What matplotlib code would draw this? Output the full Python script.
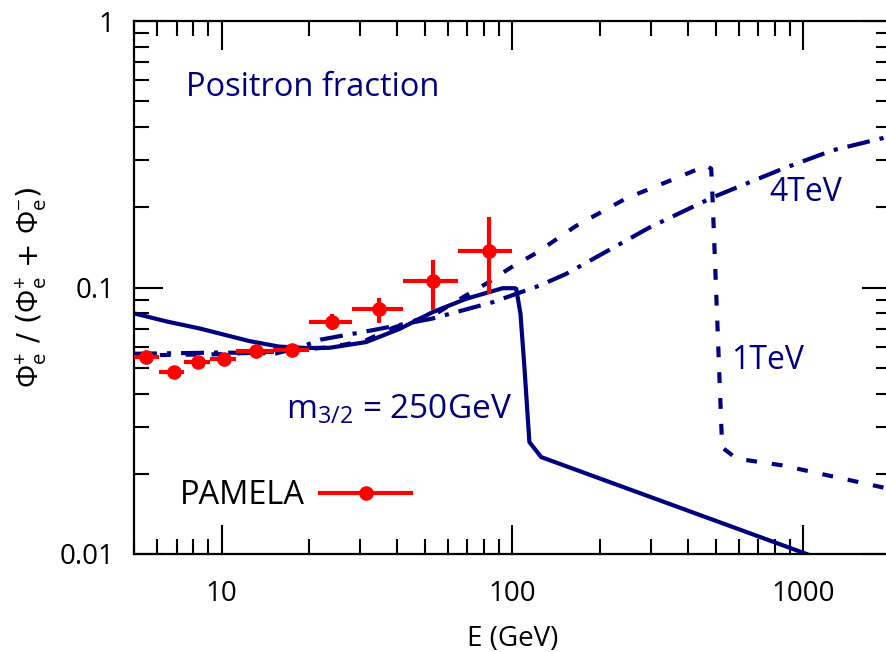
import matplotlib
matplotlib.use('Agg')
import matplotlib.pyplot as plt
from matplotlib.lines import Line2D
import numpy as np

plt.rcParams['font.family'] = ['Open Sans', 'DejaVu Sans']
plt.rcParams['mathtext.fontset'] = 'custom'
plt.rcParams['mathtext.rm'] = 'Open Sans'
plt.rcParams['mathtext.it'] = 'Open Sans'

NAVY = '#00007f'

# PAMELA data (bins and positron fraction)
pamela_edges = [5.0, 6.1, 7.4, 9.1, 11.2, 15.0, 20.0, 28.0, 42.0, 65.0, 100.0]
pamela_E = [5.49, 6.84, 8.27, 10.2, 13.1, 17.5, 24.0, 34.9, 53.1, 82.7]
pamela_frac = [0.0548, 0.0481, 0.0525, 0.054, 0.058, 0.0584, 0.0745, 0.0827, 0.1056, 0.1365]
pamela_lo = [0.053, 0.0465, 0.051, 0.0525, 0.0565, 0.057, 0.069, 0.0735, 0.0825, 0.0947]
pamela_hi = [0.0565, 0.0497, 0.054, 0.0555, 0.0595, 0.060, 0.0797, 0.0915, 0.127, 0.1836]

# m_3/2 = 250 GeV (solid)
E_250 = [5.0, 6.5, 8.4, 10.5, 12.5, 15.8, 19.5, 23.5, 31.4, 41, 53.1, 69.3, 92.5, 101.7, 103, 106.5,
         109.9, 114.3, 125.5, 1026, 2000]
f_250 = [0.080, 0.0745, 0.0702, 0.0660, 0.0629, 0.060, 0.0593, 0.0594, 0.0624, 0.070, 0.0808, 0.0907,
         0.0994, 0.0994, 0.0989, 0.0798, 0.0502, 0.0263, 0.0231, 0.0100, 0.00766]

# m_3/2 = 1 TeV (dashed)
E_1tev = [5.0, 10, 17, 23.5, 31, 38.7, 54.8, 67.3, 81.4, 97.7, 121, 165, 246, 384, 464, 482, 486,
          525.6, 589, 847, 2000]
f_1tev = [0.0556, 0.0562, 0.0578, 0.0597, 0.063, 0.0705, 0.080, 0.0917, 0.1035, 0.118, 0.135, 0.170,
          0.216, 0.263, 0.287, 0.279, 0.231, 0.0251, 0.0228, 0.0215, 0.0175]

# m_3/2 = 4 TeV (dash-dot)
E_4tev = [5.0, 10, 15.4, 18.5, 22, 32.7, 53.1, 85.3, 124, 153, 296, 488, 849, 1258, 2000]
f_4tev = [0.0564, 0.057, 0.0566, 0.0595, 0.0638, 0.069, 0.0765, 0.088, 0.1017, 0.1125, 0.168, 0.218,
          0.279, 0.327, 0.37]

fig = plt.figure(figsize=(8.87, 6.52), dpi=100)
ax = fig.add_axes([134 / 887, 98 / 652, 757 / 887, 533 / 652])

ax.plot(E_250, f_250, color=NAVY, lw=3, solid_joinstyle='round')
ax.plot(E_1tev, f_1tev, color=NAVY, lw=3, dashes=(2.6, 3.6), dash_capstyle='butt')
ax.plot(E_4tev, f_4tev, color=NAVY, lw=3, dashes=(5.5, 2.4, 1.0, 2.4), dash_capstyle='butt')

E = np.array(pamela_E)
edges = np.array(pamela_edges)
frac = np.array(pamela_frac)
xerr = [E - edges[:-1], edges[1:] - E]
yerr = [frac - np.array(pamela_lo), np.array(pamela_hi) - frac]
ax.errorbar(E, frac, xerr=xerr, yerr=yerr, fmt='o', color='red', ms=9.5,
            elinewidth=3, capsize=0, zorder=5)

ax.set_xscale('log')
ax.set_yscale('log')
ax.set_xlim(5, 2000)
ax.set_ylim(0.01, 1)
ax.set_xticks([10, 100, 1000])
ax.set_xticklabels(['10', '100', '1000'])
ax.set_yticks([0.01, 0.1, 1])
ax.set_yticklabels(['0.01', '0.1', '1'])

for s in ax.spines.values():
    s.set_linewidth(1.6)
ax.tick_params(which='both', direction='in', top=True, right=True, labelsize=20, width=1.5)
ax.tick_params(axis='x', which='major', length=21, pad=19)
ax.tick_params(axis='y', which='major', length=21, pad=14)
ax.tick_params(which='minor', length=11)

ax.set_xlabel('E (GeV)', fontsize=20, labelpad=12)
ax.set_ylabel(r'$\Phi_{e}^{+}$ / ($\Phi_{e}^{+}$ + $\Phi_{e}^{-}$)', fontsize=21, labelpad=8,
              family=['DejaVu Sans'])

ax.text(0.069, 0.875, 'Positron fraction', transform=ax.transAxes, color=NAVY, fontsize=23.5,
        va='center', ha='left')
ax.text(764, 0.227, '4TeV', color=NAVY, fontsize=23, va='center', ha='left')
ax.text(566, 0.0532, '1TeV', color=NAVY, fontsize=23, va='center', ha='left')
ax.text(16.7, 0.0346, r'm$_{3/2}$ = 250GeV', color=NAVY, fontsize=24, va='center', ha='left')

handle = Line2D([], [], color='red', lw=3, marker='o', ms=9.5)
ax.legend([handle], ['PAMELA'], loc='center left', bbox_to_anchor=(0.061, 0.109), frameon=False,
          markerfirst=False, fontsize=23.5, handlelength=2.79, numpoints=1, handletextpad=0.46,
          borderpad=0, borderaxespad=0)

plt.savefig('out.png', dpi=100)
plt.close()
